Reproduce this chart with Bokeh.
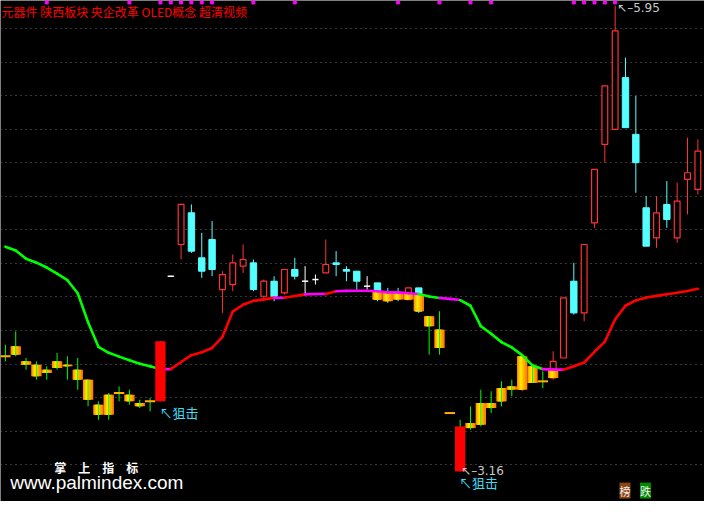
import numpy as np
from bokeh.plotting import figure
from bokeh.models import Range1d, Label, FixedTicker, Grid, ColumnDataSource
from bokeh.embed import file_html
from bokeh.resources import INLINE
from bokeh.core.properties import value

# ---------------- data ----------------
concept_text = "元器件 陕西板块 央企改革 OLED概念 超清视频"

opens = [3.85, 3.86, 3.82, 3.80, 3.77, 3.78, 3.80, 3.77, 3.71, 3.56,
         3.50, 3.63, 3.62, 3.57, 3.58, 3.58, 4.33, 4.52, 4.71, 4.44,
         4.55, 4.25, 4.28, 4.39, 4.41, 4.21, 4.30, 4.23, 4.37, 4.30,
         4.31, 4.35, 4.41, 4.37, 4.36, 4.27, 4.29, 4.23, 4.23, 4.19,
         4.26, 4.09, 4.01, 3.51, 3.16, 3.42, 3.44, 3.57, 3.58, 3.67,
         3.65, 3.79, 3.70, 3.72, 3.84, 4.30, 4.11, 4.65, 5.12, 5.21,
         5.52, 5.18, 4.74, 4.56, 4.76, 4.56, 4.91, 4.85]
highs = [3.92, 4.00, 3.84, 3.82, 3.79, 3.87, 3.85, 3.84, 3.71, 3.58,
         3.63, 3.67, 3.65, 3.59, 3.60, 3.94, 4.33, 4.76, 4.76, 4.59,
         4.66, 4.36, 4.46, 4.52, 4.43, 4.31, 4.33, 4.37, 4.44, 4.39,
         4.34, 4.55, 4.48, 4.39, 4.36, 4.33, 4.29, 4.26, 4.26, 4.26,
         4.26, 4.09, 4.12, 3.51, 3.47, 3.55, 3.65, 3.64, 3.70, 3.71,
         3.86, 3.79, 3.76, 3.88, 4.20, 4.41, 4.52, 4.97, 5.47, 5.95,
         5.64, 5.41, 4.81, 4.81, 4.90, 4.89, 5.16, 5.15]
lows = [3.82, 3.85, 3.77, 3.71, 3.71, 3.77, 3.71, 3.65, 3.55, 3.47,
        3.47, 3.58, 3.56, 3.54, 3.52, 3.58, 4.33, 4.43, 4.47, 4.32,
        4.33, 4.11, 4.24, 4.35, 4.24, 4.18, 4.18, 4.22, 4.31, 4.22,
        4.28, 4.35, 4.33, 4.30, 4.25, 4.25, 4.18, 4.17, 4.18, 4.19,
        4.11, 3.86, 3.86, 3.51, 3.16, 3.41, 3.43, 3.51, 3.55, 3.61,
        3.64, 3.69, 3.66, 3.71, 3.84, 4.10, 4.06, 4.62, 5.01, 5.21,
        5.22, 4.83, 4.51, 4.50, 4.62, 4.53, 4.70, 4.82]
closes = [3.85, 3.91, 3.80, 3.73, 3.75, 3.82, 3.79, 3.71, 3.59, 3.50,
          3.62, 3.63, 3.58, 3.55, 3.58, 3.94, 4.33, 4.76, 4.48, 4.36,
          4.37, 4.34, 4.41, 4.43, 4.25, 4.30, 4.21, 4.37, 4.33, 4.30,
          4.31, 4.40, 4.40, 4.36, 4.30, 4.27, 4.19, 4.18, 4.19, 4.26,
          4.12, 4.03, 3.90, 3.51, 3.43, 3.45, 3.57, 3.54, 3.66, 3.65,
          3.85, 3.69, 3.70, 3.82, 4.20, 4.11, 4.52, 4.97, 5.47, 5.80,
          5.22, 5.01, 4.51, 4.71, 4.67, 4.78, 4.95, 5.08]
ma_line = [4.507, 4.484, 4.435, 4.411, 4.382, 4.345, 4.306, 4.228, 4.054, 3.907,
           3.871, 3.848, 3.827, 3.806, 3.790, 3.773, 3.773, 3.816, 3.857, 3.874,
           3.900, 3.967, 4.118, 4.159, 4.182, 4.191, 4.200, 4.201, 4.211, 4.221,
           4.223, 4.224, 4.240, 4.242, 4.243, 4.243, 4.240, 4.233, 4.233, 4.228,
           4.223, 4.208, 4.199, 4.194, 4.187, 4.153, 4.031, 3.985, 3.935, 3.903,
           3.857, 3.796, 3.773, 3.770, 3.770, 3.791, 3.813, 3.877, 3.938, 4.072,
           4.153, 4.185, 4.202, 4.212, 4.222, 4.231, 4.241, 4.255]
signal_bars = [16, 45]
flag_bars = [5, 13, 16, 17, 18, 19, 20, 21, 25, 29, 39, 43, 46, 48, 56, 57, 58, 59, 60]
grid_levels = [5.814, 5.613, 5.412, 5.211, 5.009, 4.809, 4.608, 4.407, 4.206,
               4.005, 3.803, 3.603, 3.402, 3.201]
signal_text = "狙击"
watermark_cn = "掌　上　指　标"
watermark_url = "www.palmindex.com"
tab_texts = ["榜", "跌"]

# ---------------- layout ----------------
W, H = 704, 501
X0, X1 = 0.527, 68.644
Y0, Y1 = 2.980, 5.982
REF_W, REF_H = 720, 517
dpx = (X1 - X0) / REF_W
dpy = (Y1 - Y0) / REF_H


def px(x):
    return X0 + x * dpx


def py(y):
    return Y1 - y * dpy


UP, DN, DJ, GREEN = "#FF3232", "#54FFFF", "#FFFFFF", "#00FF00"
CJK = "Noto Sans CJK SC"

p = figure(width=W, height=H, x_range=Range1d(X0, X1), y_range=Range1d(Y0, Y1),
           output_backend="svg", toolbar_location=None, min_border=0,
           x_axis_location=None, y_axis_location=None,
           background_fill_color="black", border_fill_color="black",
           outline_line_color=None)
p.grid.visible = False
p.add_layout(Grid(dimension=1, ticker=FixedTicker(ticks=grid_levels),
                  grid_line_color="#8a8a8a", grid_line_dash="1 4",
                  grid_line_alpha=0.8, grid_line_width=1))

n = len(opens)
idx = np.arange(1, n + 1).astype(float)
o = np.array(opens)
h = np.array(highs)
l = np.array(lows)
c = np.array(closes)
m = np.array(ma_line)
sig = np.isin(np.arange(1, n + 1), signal_bars)
doji = np.isclose(o, c)
up = (c > o) & ~doji
dn = (c < o) & ~doji
under = (h < m) | sig
body_lo = np.minimum(o, c)
body_hi = np.maximum(o, c)

# regular wicks
reg = ~under
wcol = np.where(up, UP, np.where(dn, DN, DJ))
p.segment(source=ColumnDataSource(dict(x=idx[reg], y0=l[reg], y1=h[reg], col=list(wcol[reg]))),
          x0="x", y0="y0", x1="x", y1="y1", line_color="col", line_width=1)

# regular bodies (visible above the line)
mk = up & ~sig & (body_hi > m)
p.vbar(x=idx[mk], bottom=o[mk], top=c[mk], width=0.56, fill_color="black",
       line_color=UP, line_width=1.2)
mk = dn & ~sig & (body_hi > m)
p.vbar(x=idx[mk], bottom=c[mk], top=o[mk], width=0.62, fill_color=DN, line_color=DN,
       line_width=1)

# gold part of bodies under the line
mk = (body_lo < m) & ~sig & ~doji
gtop = np.minimum(body_hi, m)
for dx, wd, col in [(0.0, 1.0, "#FF8400"), (-0.06, 0.74, "#FFA600"),
                    (-0.1, 0.46, "#FFC800"), (-0.12, 0.2, "#FFE600")]:
    p.vbar(x=idx[mk] + dx, bottom=body_lo[mk], top=gtop[mk], width=wd,
           fill_color=col, line_color=None)

# green wicks for bars entirely under the line
p.segment(x0=idx[under], y0=l[under], x1=idx[under], y1=h[under],
          line_color=GREEN, line_width=1)

# dojis
mk = doji & ~sig & (o < m)
p.segment(x0=idx[mk] - 0.5, y0=o[mk], x1=idx[mk] + 0.5, y1=o[mk],
          line_color="#FFB000", line_width=2)
mk = doji & ~sig & (o >= m)
p.segment(x0=idx[mk] - 0.3, y0=o[mk], x1=idx[mk] + 0.3, y1=o[mk],
          line_color=DJ, line_width=1.5)

# coloured moving line
d = m[1:] - m[:-1]
seg_col = np.where(d > 0.008, "#FF0000", np.where(d < -0.008, "#00FF00", "#FF00FF"))
p.segment(source=ColumnDataSource(dict(x0=idx[:-1], x1=idx[1:], y0=m[:-1], y1=m[1:],
                                       col=list(seg_col))),
          x0="x0", y0="y0", x1="x1", y1="y1", line_color="col", line_width=2.6,
          line_cap="round")

# signal bars
p.vbar(x=idx[sig], bottom=body_lo[sig], top=body_hi[sig], width=1.0,
       fill_color="#FF0000", line_color=None)

# signal labels
p.text(x=idx[sig] - 0.1, y=l[sig] - 11.5 * dpy, text=["↖" + signal_text] * int(sig.sum()),
       text_color="#3FDDF5", text_font_size="13px", text_font=value(CJK),
       text_baseline="middle", text_align="left")

# high / low labels
hi_i = int(np.argmax(h))
lo_i = int(np.argmin(l))
p.text(x=[idx[hi_i] + 2 * dpx], y=[h[hi_i] - 2.5 * dpy], text=["↖–" + f"{h[hi_i]:.2f}"],
       text_color="#C8C8C8", text_font_size="12px", text_font=value("DejaVu Sans"),
       text_baseline="middle", text_align="left")
p.text(x=[idx[lo_i] + 1 * dpx], y=[l[lo_i]], text=["↖–" + f"{l[lo_i]:.2f}"],
       text_color="#C8C8C8", text_font_size="12px", text_font=value("DejaVu Sans"),
       text_baseline="middle", text_align="left")

# top flags
fl = np.array(flag_bars, dtype=float)
p.scatter(x=fl, y=np.full(len(fl), py(2)), marker="square", size=3,
          fill_color="#FF00FF", line_color="#FF00FF")

# texts
p.add_layout(Label(x=px(1), y=py(11), text=concept_text, text_color="#FF0000",
                   text_font_size="12px", text_font=CJK, text_baseline="middle"))
p.add_layout(Label(x=px(55), y=py(482), text=watermark_cn, text_color="#FFFFFF",
                   text_font_size="12px", text_font=CJK, text_font_style="bold",
                   text_baseline="middle"))
p.add_layout(Label(x=px(10), y=py(497), text=watermark_url, text_color="#FFFFFF",
                   text_font_size="19px", text_font="Liberation Sans",
                   text_baseline="middle"))
p.add_layout(Label(x=px(633), y=py(514), text=tab_texts[0], text_color="#F0F0F0",
                   text_font_size="11px", text_font=CJK, text_baseline="bottom",
                   background_fill_color="#8B4513"))
p.add_layout(Label(x=px(654), y=py(514), text=tab_texts[1], text_color="#F0F0F0",
                   text_font_size="11px", text_font=CJK, text_baseline="bottom",
                   background_fill_color="#008800"))

open("out.html", "w").write(file_html(p, INLINE))
